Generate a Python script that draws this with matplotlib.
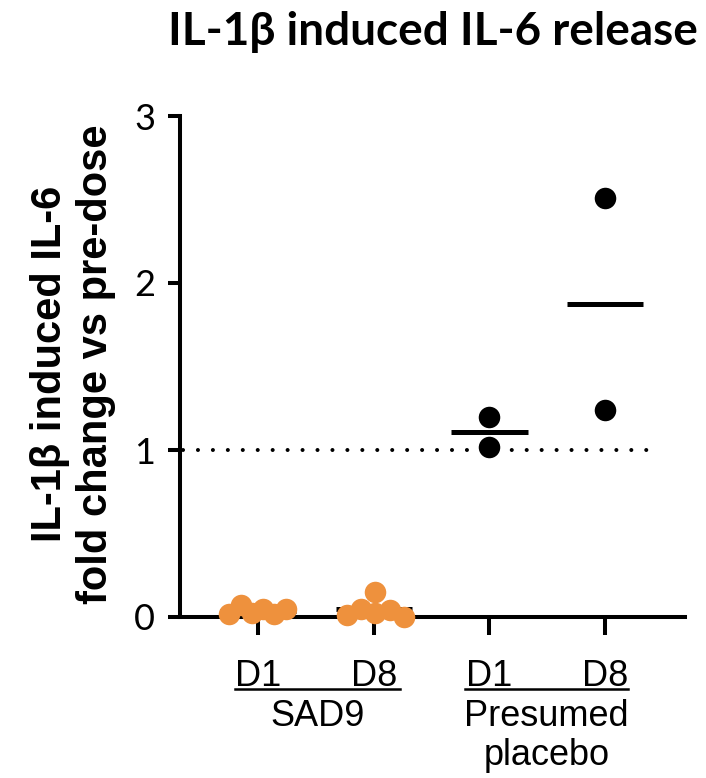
import numpy as np
import matplotlib
matplotlib.use("Agg")
import matplotlib.pyplot as plt

# data
tick_labels = ["D1", "D8", "D1", "D8"]
group_labels = ["SAD9", "Presumed\nplacebo"]

sad9_d1 = [0.018, 0.072, 0.022, 0.048, 0.018, 0.048]
sad9_d8 = [0.012, 0.046, 0.148, 0.022, 0.042, 0.002]
placebo_d1 = [1.20, 1.02]
placebo_d8 = [2.51, 1.24]

# horizontal scatter of the swarm (in category units)
sad9_d1_offsets = [-0.25, -0.15, -0.05, 0.04, 0.14, 0.24]
sad9_d8_offsets = [-0.23, -0.11, 0.01, 0.01, 0.14, 0.26]

orange = "#EE913D"

fig = plt.figure(figsize=(7.06, 7.78), dpi=100)
ax = fig.add_axes([180 / 706, 1 - 617 / 778, 505 / 706, 501 / 778])

pos = np.arange(1, 5)
all_vals = [sad9_d1, sad9_d8, placebo_d1, placebo_d8]
all_offs = [sad9_d1_offsets, sad9_d8_offsets, [0, 0], [0, 0]]
colors = [orange, orange, "black", "black"]

# reference line at 1
ax.plot([0.35, 4.4], [1, 1], color="black", lw=2.9,
        linestyle=(0, (0.01, 3.7)), dash_capstyle="round", zorder=1)

for p, vals, offs, c in zip(pos, all_vals, all_offs, colors):
    m = np.mean(vals)
    ax.plot([p - 0.33, p + 0.33], [m, m], color="black", lw=3.6,
            solid_capstyle="butt", zorder=2, clip_on=False)
    ax.plot(p + np.array(offs), vals, "o", color=c, ms=15.5,
            markeredgewidth=0, zorder=3, clip_on=False)

ax.set_xlim(0.326, 4.69)
ax.set_ylim(0, 3)
ax.set_yticks([0, 1, 2, 3])
ax.set_xticks(pos)
ax.set_xticklabels(tick_labels, fontsize=26, family=["Liberation Sans"])
for lab in ax.get_yticklabels():
    lab.set_family(["Lato", "DejaVu Sans"])
    lab.set_fontsize(26)

for s in ["top", "right"]:
    ax.spines[s].set_visible(False)
for s in ["left", "bottom"]:
    ax.spines[s].set_linewidth(2.9)
ax.tick_params(axis="y", length=9, width=2.9, pad=9)
ax.tick_params(axis="x", length=13, width=2.9, pad=17)

# underline and group labels
tr = ax.get_xaxis_transform()
for a, b, lab in [(0.80, 2.23, group_labels[0]), (2.79, 4.20, group_labels[1])]:
    ax.plot([a, b], [-0.1437, -0.1437], color="black", lw=1.8,
            transform=tr, clip_on=False)
    ax.text((a + b) / 2, -0.163, lab, transform=tr, ha="center", va="top",
            fontsize=26, family=["Liberation Sans"], linespacing=1.15)

fig.text(432.5 / 706, 1 - 32 / 778, "IL-1β induced IL-6 release",
         ha="center", va="center", fontsize=33, fontweight="bold",
         family=["Lato", "DejaVu Sans"])

fig.text(73 / 706, 1 - 364 / 778, "IL-1β induced IL-6\nfold change vs pre-dose",
         rotation=90, ha="center", va="center", multialignment="center",
         fontsize=30, fontweight="bold", family=["Liberation Sans"],
         linespacing=1.2)

fig.savefig("out.png", dpi=100)
